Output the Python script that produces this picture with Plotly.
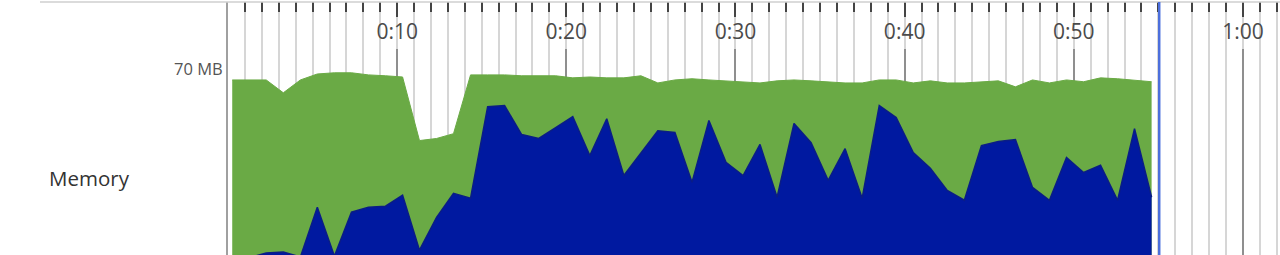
import plotly.graph_objects as go

# ---- data ----
t_sec = [0.25, 1.26, 2.26, 3.27, 4.28, 5.28, 6.29, 7.30, 8.30, 9.31,
         10.32, 11.32, 12.33, 13.33, 14.34, 15.35, 16.35, 17.36, 18.37, 19.37,
         20.38, 21.39, 22.39, 23.40, 24.41, 25.41, 26.42, 27.43, 28.43, 29.44,
         30.45, 31.45, 32.46, 33.46, 34.47, 35.48, 36.48, 37.49, 38.50, 39.50,
         40.51, 41.52, 42.52, 43.53, 44.54, 45.54, 46.55, 47.56, 48.56, 49.57,
         50.58, 51.58, 52.59, 53.59, 54.60]

committed_mb = [66.3, 66.3, 66.3, 62.0, 66.3, 68.3, 68.7, 68.7, 68.0, 67.7,
                67.3, 46.0, 46.7, 48.3, 68.0, 68.0, 68.0, 67.7, 67.7, 67.7,
                67.0, 67.3, 67.0, 67.0, 67.7, 65.3, 66.3, 66.7, 66.3, 66.0,
                65.7, 65.3, 66.0, 66.3, 66.0, 65.7, 65.3, 65.3, 66.3, 66.3,
                65.3, 66.0, 65.3, 65.3, 65.7, 66.0, 64.0, 66.3, 65.3, 66.3,
                65.7, 67.0, 66.7, 66.3, 65.7]

used_mb = [5.3, 6.7, 8.3, 8.7, 7.0, 23.7, 7.3, 22.0, 23.7, 24.0,
           27.7, 9.3, 20.3, 28.3, 26.7, 57.3, 57.7, 48.0, 46.7, 50.3,
           54.0, 41.0, 53.3, 34.3, 42.0, 49.3, 48.7, 32.0, 52.7, 38.7,
           34.3, 44.7, 27.0, 51.7, 45.3, 32.7, 43.3, 26.7, 57.7, 53.7,
           42.0, 36.7, 29.3, 26.0, 44.3, 45.7, 46.3, 30.3, 26.0, 40.3,
           35.3, 37.7, 26.0, 50.0, 27.0]

major_secs = [0, 10, 20, 30, 40, 50, 60]
tick_secs = [10, 20, 30, 40, 50, 60]
tick_labels = ["0:10", "0:20", "0:30", "0:40", "0:50", "1:00"]
y_tick_vals = [70]
y_tick_labels = ["70 MB"]
cursor_sec = 55.05
x_range = [0, 62.19]
y_range = [7.667, 76.667]

GREEN = "#6aaa45"
BLUE = "#0019a0"
FONT = "Open Sans"

fig = go.Figure()
fig.add_trace(go.Scatter(x=t_sec, y=committed_mb, mode="lines", fill="tozeroy",
                         line=dict(color=GREEN, width=1), fillcolor=GREEN,
                         xaxis="x", yaxis="y", hoverinfo="skip", showlegend=False))
fig.add_trace(go.Scatter(x=t_sec, y=used_mb, mode="lines", fill="tozeroy",
                         line=dict(color="#0a1d86", width=1.5), fillcolor=BLUE,
                         xaxis="x", yaxis="y", hoverinfo="skip", showlegend=False))
fig.add_trace(go.Scatter(x=[], y=[], xaxis="x2", yaxis="y2", showlegend=False))

strip_bottom = 1 - 47 / 253

fig.update_layout(
    width=1280, height=255,
    margin=dict(l=228, r=0, t=2, b=0, pad=0),
    paper_bgcolor="white", plot_bgcolor="white",
    font=dict(family=FONT, color="#555"),
    xaxis=dict(domain=[0, 1], anchor="y", range=x_range,
               tickmode="array", tickvals=major_secs, showticklabels=False, ticks="",
               showgrid=True, gridcolor="#8f8f8f", gridwidth=1.5, zeroline=False,
               minor=dict(tickmode="linear", tick0=0, dtick=1, showgrid=True,
                          gridcolor="#d6d6d6", gridwidth=1.5)),
    yaxis=dict(domain=[0, strip_bottom], anchor="x", range=y_range,
               tickmode="array", tickvals=y_tick_vals, ticktext=y_tick_labels,
               ticks="", showgrid=False, zeroline=False,
               showline=True, linecolor="#a0a0a0", linewidth=2,
               tickfont=dict(size=16.5, color="#555", family=FONT)),
    xaxis2=dict(domain=[0, 1], anchor="y2", side="top", range=x_range,
                tickmode="array", tickvals=tick_secs, ticktext=tick_labels,
                ticks="inside", ticklen=15, tickwidth=1.5, tickcolor="#444",
                ticklabelposition="inside", ticklabelstandoff=9,
                tickfont=dict(size=21, color="#4a4a4a", family=FONT),
                showgrid=False, zeroline=False, showline=False,
                minor=dict(tickmode="linear", tick0=0, dtick=1, ticks="inside",
                           ticklen=10, tickwidth=1.5, tickcolor="#444",
                           showgrid=True, gridcolor="#d6d6d6", gridwidth=1.5)),
    yaxis2=dict(domain=[strip_bottom, 1], anchor="x2", range=[0, 1],
                showticklabels=False, showgrid=False, zeroline=False,
                showline=True, linecolor="#a0a0a0", linewidth=2),
    annotations=[dict(text="Memory", xref="paper", yref="paper",
                      x=(47 - 228) / 1052, y=(255 - 178) / 253,
                      xanchor="left", yanchor="middle", showarrow=False,
                      font=dict(size=20.5, color="#333", family=FONT))],
    shapes=[
        dict(type="line", xref="paper", yref="paper", x0=(40 - 228) / 1052, x1=1,
             y0=1, y1=1, line=dict(color="#cfcfcf", width=1.5)),
        dict(type="line", xref="x", yref="paper", x0=cursor_sec, x1=cursor_sec,
             y0=0, y1=1, line=dict(color="#4c6fdc", width=2.5)),
    ],
)

fig.write_html("out.html")
